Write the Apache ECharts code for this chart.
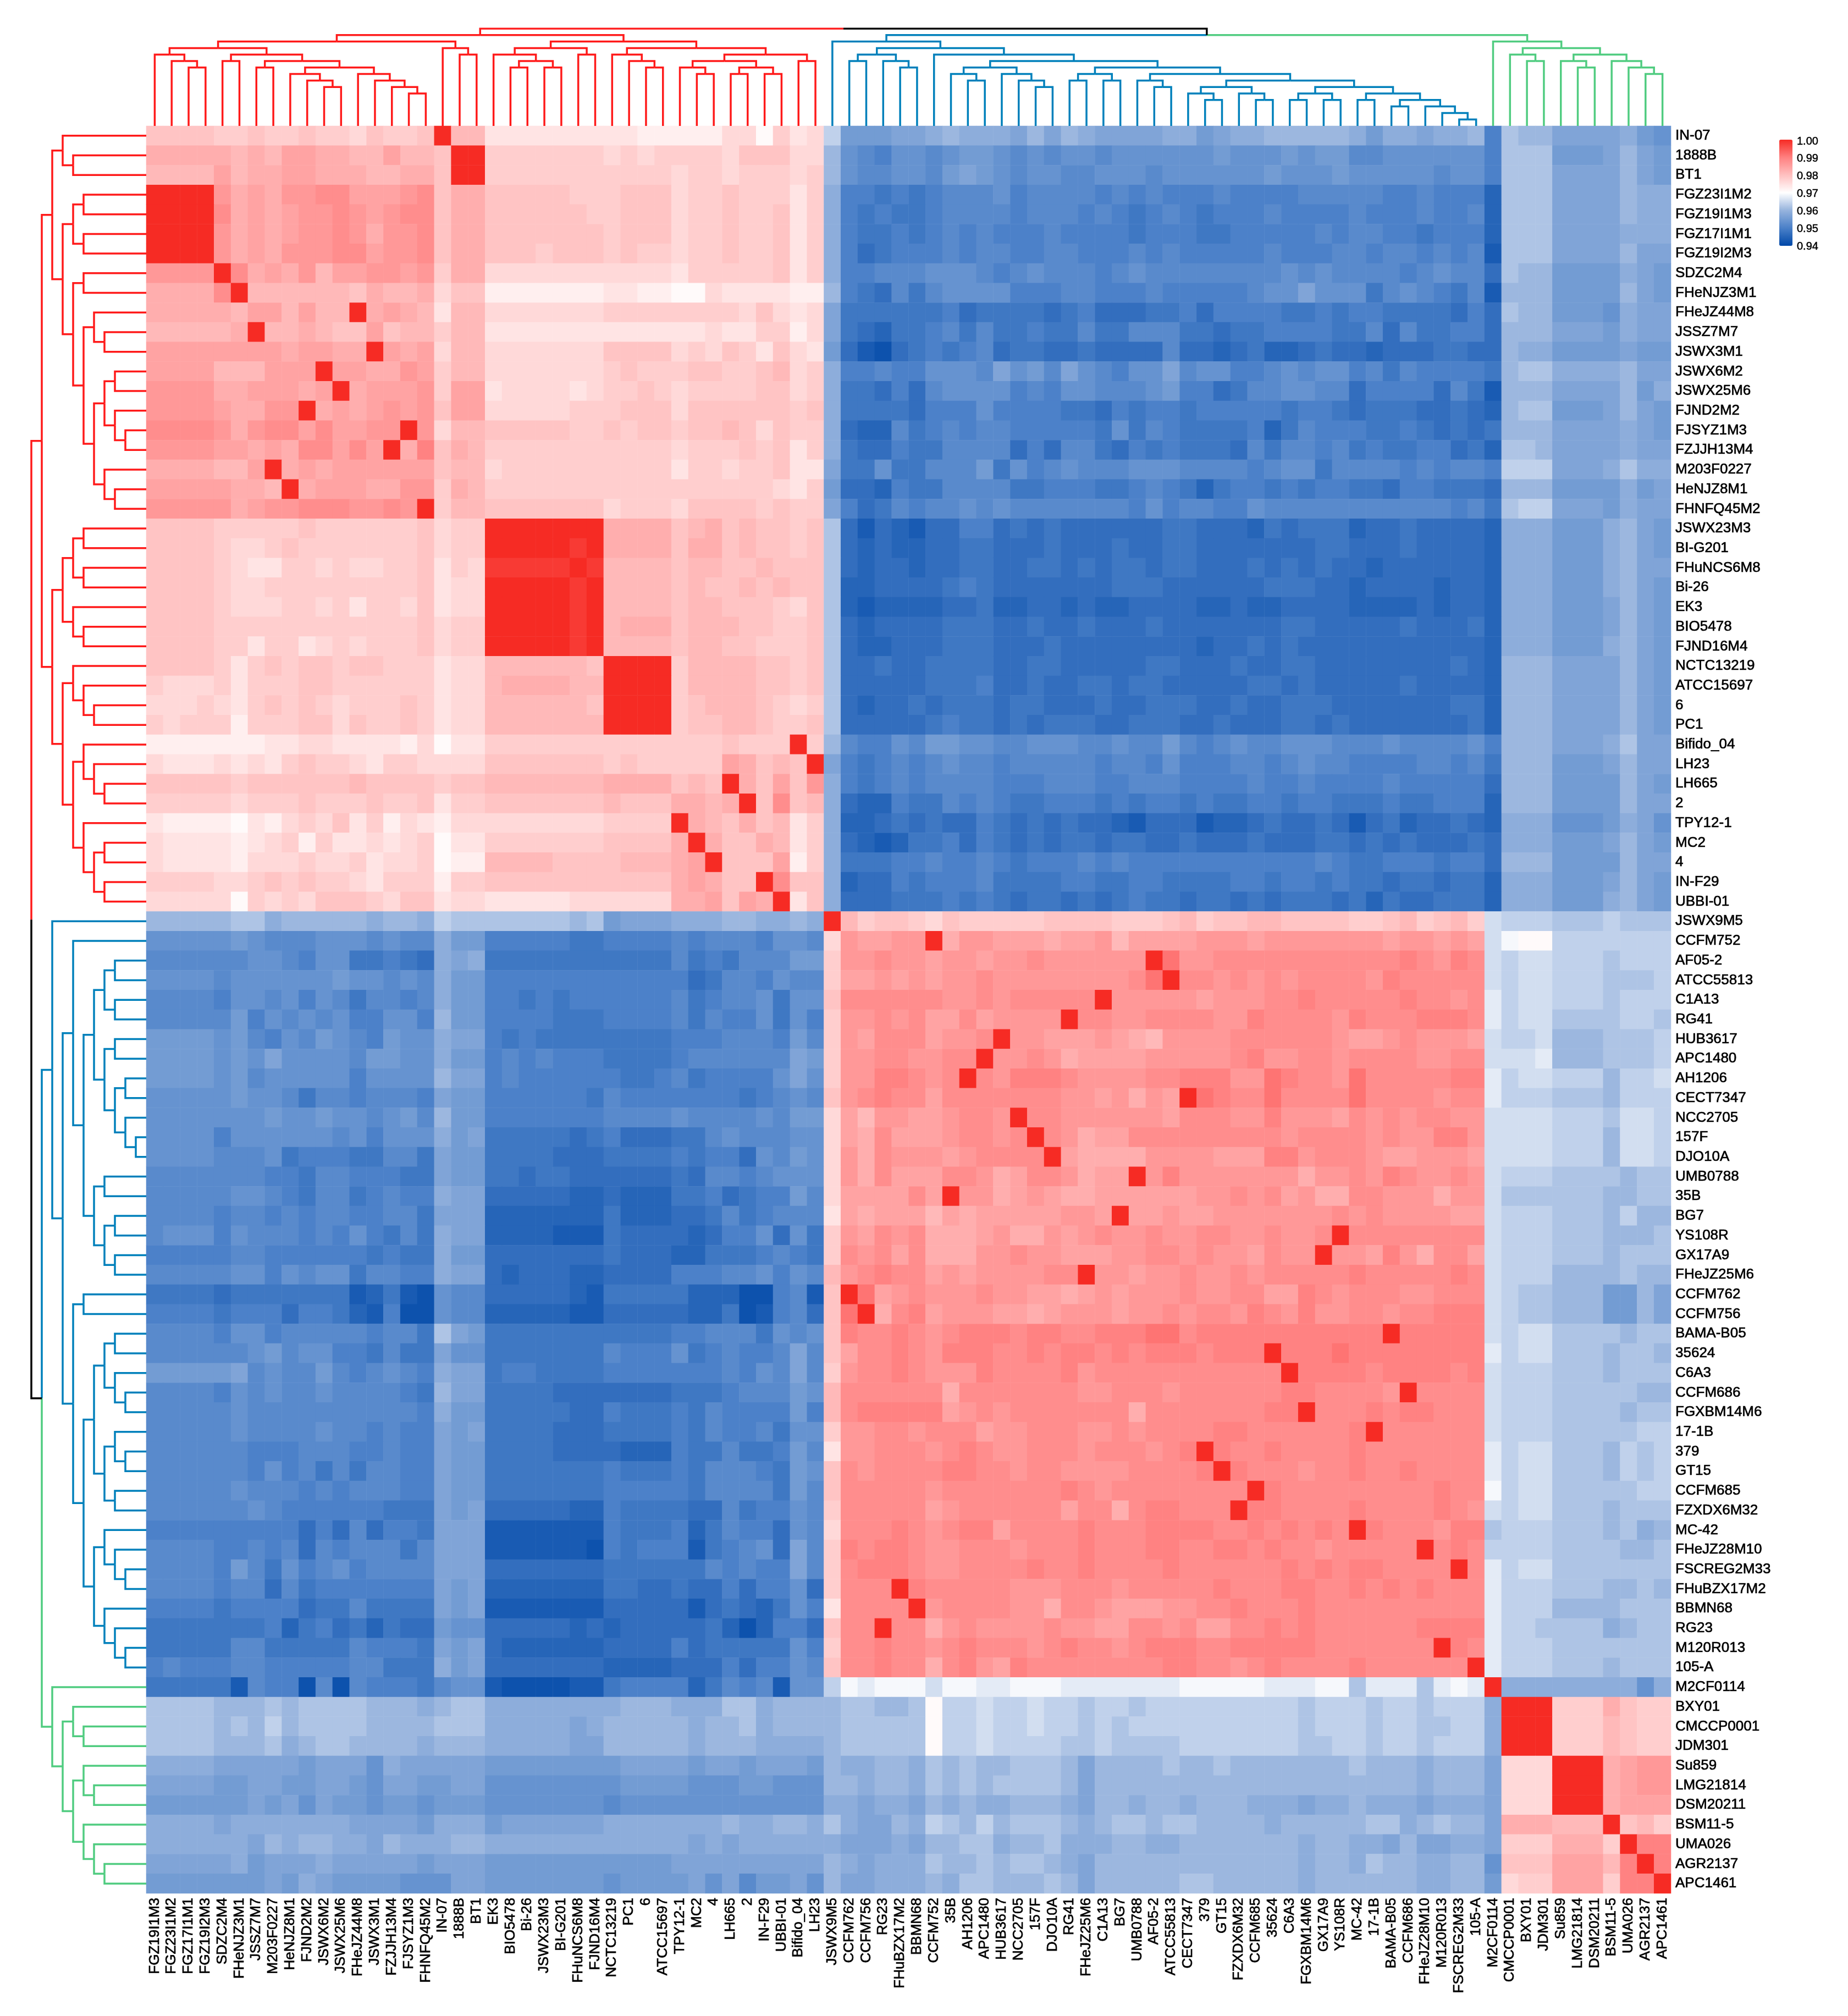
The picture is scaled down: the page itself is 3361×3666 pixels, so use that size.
<!DOCTYPE html>
<html>
<head>
<meta charset="utf-8">
<title>clustered heatmap</title>
<style>
html,body{margin:0;padding:0;background:#fff}
#main{width:3361px;height:3666px}
</style>
<script src="https://cdn.jsdelivr.net/npm/echarts@6/dist/echarts.min.js"></script>
</head>
<body>
<div id="main"></div>
<script>
var rowLabels = ["IN-07","1888B","BT1","FGZ23I1M2","FGZ19I1M3","FGZ17I1M1","FGZ19I2M3","SDZC2M4","FHeNJZ3M1","FHeJZ44M8","JSSZ7M7","JSWX3M1","JSWX6M2","JSWX25M6","FJND2M2","FJSYZ1M3","FZJJH13M4","M203F0227","HeNJZ8M1","FHNFQ45M2","JSWX23M3","BI-G201","FHuNCS6M8","Bi-26","EK3","BIO5478","FJND16M4","NCTC13219","ATCC15697","6","PC1","Bifido_04","LH23","LH665","2","TPY12-1","MC2","4","IN-F29","UBBI-01","JSWX9M5","CCFM752","AF05-2","ATCC55813","C1A13","RG41","HUB3617","APC1480","AH1206","CECT7347","NCC2705","157F","DJO10A","UMB0788","35B","BG7","YS108R","GX17A9","FHeJZ25M6","CCFM762","CCFM756","BAMA-B05","35624","C6A3","CCFM686","FGXBM14M6","17-1B","379","GT15","CCFM685","FZXDX6M32","MC-42","FHeJZ28M10","FSCREG2M33","FHuBZX17M2","BBMN68","RG23","M120R013","105-A","M2CF0114","BXY01","CMCCP0001","JDM301","Su859","LMG21814","DSM20211","BSM11-5","UMA026","AGR2137","APC1461"];
var colLabels = ["FGZ19I1M3","FGZ23I1M2","FGZ17I1M1","FGZ19I2M3","SDZC2M4","FHeNJZ3M1","JSSZ7M7","M203F0227","HeNJZ8M1","FJND2M2","JSWX6M2","JSWX25M6","FHeJZ44M8","JSWX3M1","FZJJH13M4","FJSYZ1M3","FHNFQ45M2","IN-07","1888B","BT1","EK3","BIO5478","Bi-26","JSWX23M3","BI-G201","FHuNCS6M8","FJND16M4","NCTC13219","PC1","6","ATCC15697","TPY12-1","MC2","4","LH665","2","IN-F29","UBBI-01","Bifido_04","LH23","JSWX9M5","CCFM762","CCFM756","RG23","FHuBZX17M2","BBMN68","CCFM752","35B","AH1206","APC1480","HUB3617","NCC2705","157F","DJO10A","RG41","FHeJZ25M6","C1A13","BG7","UMB0788","AF05-2","ATCC55813","CECT7347","379","GT15","FZXDX6M32","CCFM685","35624","C6A3","FGXBM14M6","GX17A9","YS108R","MC-42","17-1B","BAMA-B05","CCFM686","FHeJZ28M10","M120R013","FSCREG2M33","105-A","M2CF0114","CMCCP0001","BXY01","JDM301","Su859","LMG21814","DSM20211","BSM11-5","UMA026","AGR2137","APC1461"];

// one string per row, one character per cell: 0-9a-z, 0.94 to 1.00
var levelRows = [
"nnnn mmnmmnmmlnmmn z oo kkkkkkk kkjj jjjllimkl e 999aabcbbb acacbaaaab b9abbccccc b9bbabbc 6 dcc aaa ab98",
"pppp popoqqppooqoo n zz mmmmmmm lmlm mmmlnnnll c 8768878998 7878878888 8898889899 77888888 6 ddd 999 aca9",
"oooo qoppqqpppoopp n zz mmmmmmm mmmm lmmlmmmlm c 8778879a98 7887788878 8888898889 88888788 6 ddd aaa aca9",
"zzzz rpqprrssqqqrs n pp nnnnnmm mnnn lmmnmmmkm b 6656567778 6777767676 6676666777 77667666 3 ddd aaa acbb",
"zzzz spqpqrrsrqrss n pp nnnnnnm mnnn lmmnmmnkm b 6565567777 6777676567 6566676666 76667667 3 ddd aaa acbb",
"zzzz rpqpqrrsrprrs n pp nnnnnnn mnnn lmmnmmnkm b 6556567676 6676666566 6556666676 77665666 3 ddd aaa abbb",
"zzzz rpqprrrssqrrs n pp nnnmnnn mnmm lmmnmmnkm b 6456667677 6677666767 6666676667 76776767 2 ddd aaa acaa",
"rrrr zspqproqqrrqr m pp lllllll llll kmmmmmnkm b 6677788876 7877767877 7777778787 77767877 4 dcc 999 9ba9",
"pppp szoooooonpoop l nn jjjjjjj kkjj iilkkkkjj c 6547578888 6667766676 6666788a88 85787657 2 ccc 999 9ca9",
"pppp poqqoqoozpqpo k oo lllllll mmmm mmmmlnlkl a 5555556455 5545644455 6466665565 66555546 4 dcc 999 8baa",
"oooo opzooponnqnoo m oo kkkkkkk kkkk kklkkmmjl a 5435567575 5655755777 5545566665 57475566 4 ccc aaa 9baa",
"qqqq qqqqpqqppzqpq l oo lllllll nnnn lmlnmknlk 9 4214565674 5544544447 4434533454 43444554 4 cbb 999 9a99",
"qqqq oooqqqzqqpprq m oo lllllll mnmm mnnmmnolm b 667668887a 897a87688a 7886678788 67576666 5 cdd bbb bcaa",
"rrrr ppqqqpqzpqqqr m qq kllllkl mmnm lmmmmnnlm b 5546478888 6768877789 6645778877 46666475 2 ccc aaa ac9b",
"rrrr qpprrzpqpqrqr n qq lllllmm mnnn lnnnnnnmn b 5555466686 6665546566 5666665665 45554454 3 cdd 999 aca9",
"ssss rprssqsqqrrzr l oo nnnnnmm nmnn mnnonlnmm b 4337567677 6666658576 5555635766 65565454 5 ccc aaa aba9",
"rrrr qqpqpssqsqzpt n po mmmmmmm mmmm lmmmnmnkm b 5446557777 4647754656 5554757767 56556645 3 ddc aaa abaa",
"pppp ooqzpqpqqqqqq n oo lmmmmmm mmmm kmmlmmnkk a 5585577795 8678777888 7777678857 77767677 6 eee aaa bdbb",
"qqqq qppozpqqqpprr m po mmmmmmm mmmm mmmmmmlkm 9 4436557777 5566655676 5356656566 55466555 4 ccc 999 9b9a",
"rrrr rpqrrsssrrsrz m oo nnnnnnn lmmm lnnnnmnmm a 6457677878 7777777686 7766877777 77777767 5 dee aaa 9baa",
"nnnn mmmmmnmmmmmmn l mm zzzzzzz pppp nopnonnmn d 4243244664 5454444445 5444354555 34454444 3 bbb 999 bca9",
"nnnn mllmnmmmmmmmn l mm zzzzzyz pppp nppnonnmn d 4343344554 4454445445 5444444455 44454444 3 bbb 999 bca9",
"nnnn mlkkmmlmllmmn k ml yyyyyzy oooo noonnonnn d 4344344554 4554545545 5444545454 43444444 3 bbb 999 bcaa",
"nnnn mllmmmmmmmmmn k ll zzzzzyz oooo nonnononn d 3344445654 4444445554 4444455544 34444344 3 bbb 999 bca9",
"nnnn mlllmmlmkmmln k ll zzzzzyz oooo noonnnmln d 3233334453 3443433444 4334334444 33334344 3 bbb 999 aca9",
"nnnn mmmmmmmmmmmmn l mm zzzzzyz oppp nooonnmmn d 4344445554 4544544454 4444445544 44454445 3 bbb 999 aca9",
"nnnn mmkmmklmlmmmn l mm zzzzzyz oooo noonnmmmn d 4334445554 4454444444 4344545444 44444444 3 bbb 999 bca9",
"nnnn mkmnmnnmnnmmm k ll oooooon zzzz moooonnmn d 4454455554 4554444455 4445445544 44444454 3 ccc aaa aca9",
"mlll mkmmmnnmmmmmm k ll oppppoo zzzz moooonnmn d 4444455564 4544554554 4444554544 44454444 3 ccc aaa aca9",
"lllm lkmnmnmlmmmnm k ll oooooon zzzz mnooonmlm d 4344545554 5544454455 5445445554 44444455 3 ccc aaa aca9",
"mlmm mjmmmnnlnmmnm k ll ooooooo zzzz mnnoonmmn d 4444456554 5455544555 4454445545 44444445 3 ccc aaa aca9",
"jjjj jjjkkllkkkkjl i kk mmmmmmm mmmm mmmnmmmzm c 7668799887 7888778779 7678778887 77877778 6 ccc aaa bdaa",
"lkkk lklkmnmmlkmml l ll nnnnnnn mnmm mmmqpnonz a 6567678776 7777767768 6667767877 66667767 5 ccc 999 acaa",
"nnnn nmnnnnnnonnnn m nn ooooooo pppp nonzpnqnr b 6567677776 6677766777 6666766766 66766666 4 ccc 999 9ca9",
"mmmm mlmmmnmmmnmmn k mm nnnnnnn onnn ppopznsno b 4336557676 5566656566 5655665665 55655666 3 ccc 999 9caa",
"kjjj jikjlmlnkmjlk j ll lllllll mmmm zponpnokm b 3345454465 4545443244 4233454454 24534454 3 bbb 888 9ba8",
"lkkk kjklmjmkklklm i kk mmmmmmm nnnn pzpnnpokm b 4323556465 4545545544 5444544455 45454445 4 bbb 999 aca9",
"lkkk kjlllmllmkllm i jj oooonnn nooo pqznnnqjm b 5556676676 5666767666 6666666676 55666566 4 ccc 999 9caa",
"mmmm llmnmnmmlkmmm j mm nnnnnnn nnnn pqpnnzsnn b 3446566675 5556655665 5556656656 55455455 3 bbb 999 aca9",
"llll limlmlnnnmlnn k ll kkkkkll llll ppqnqpzkn b 4445556565 4554545655 4554545554 53544555 3 bbb 999 bca9",
"cccc cddbcccccbccb e dd dddddcd 9aaa bbbccbbcb z omnnmlnmmm mmnnnnmmmn omnnoonnnn mmnomnom f eee ddd eddd",
"8888 8987778887877 b 99 6666655 6666 767776887 l rqqrrzprrq qqpqqroqqq qrrrqrrrrr rrqrrqrq f hii eee eeee",
"7777 7788768855654 b ab 5555555 5555 756577799 m rrsrrqrrqr rsrrrrrrzu rrssssssss ssstsrts f eff eee deee",
"8888 7888888988787 b 99 6666666 6666 645776877 m qqrqrqrrsr rrrrrrrsuz ssrsrsrsss srtsssss f eff eee ddde",
"7777 6887868757767 b 99 6656566 6666 756778588 n ssssssrrsr ssssszrrrr rqrrrsstss ssstssrs g eff eee deee",
"7777 7968787866886 c 99 6666555 6666 757668586 m rrsrsqqsqr rrrzssrrss ssrrtssssr tsssttts g eff ddd deed",
"9999 8976879876988 b aa 6565555 5555 666777697 m rqsssqrrsz rrqqqrqpor rrrssssssr qqrsrrrq f eef ccc ddde",
"9999 898a888879988 b 99 6767666 5555 6777777a9 m rrssrrsszr rsrpqqqqrr rrrstrrssr ssssrrss f ffg ccc ddde",
"9999 8978888868888 c aa 6766666 6556 7566668a8 m rrttsrszsr tttsrrrrss tttrrutssr ussssstt g eff eee ceef",
"8888 8988757767776 a 99 6666665 7666 666656787 n rstssqssss sssrrqrprq zutssussss ussssrss g eee ddd ceee",
"8888 8889889887897 c 99 6666666 7777 877778799 l qorrqqrssr zssrrrrrrq sssrrtrrrq srsrssrr f fff eee dffe",
"8888 6888888786888 b 9a 5555545 6444 557877788 l qpsqqqrssr szsrpqqsss ssssssrsss srsrrttr f fff eee cffe",
"8888 7778566655775 a 99 5555444 5555 656648798 l rpsrrrqrss sszqpppprr rrqqqttrss srqqrrrq f fff eee cffe",
"7777 7776657766655 a 99 5545544 4444 547767888 l rpsqqqssrp qssrpqqzrt rrrrrrrprr srtsrrsr f eee ddd dcdd",
"7777 7887657756766 b aa 4444433 4333 556456697 l qqqqsqzrrp qrqppqqqqq qrrsrsqrpp ssrrrprr f ddd ddd ccdd",
"7777 6776767766775 a aa 3333333 5333 445756777 k qpqqqoqpqq qqqrrqzqqr qqrrrrrrrs rsrrrrqq f eee ddd cecc",
"7888 6877767686575 b aa 3333222 5444 434668485 m rqsrspppqr pprqrsrrsr rssrrsrrsz ssssssss f eee ddd cccd",
"6666 6776666665655 b 99 4444444 5444 335556765 m srsqsppprr srrqqqrrss rsrrqsrrzr rqtrpssq f eee ddd cddd",
"7777 7886878857766 b aa 4344433 4444 666778687 o rstssqrqrr rrsszrrqrr srrsrsssss tsssssts f eee ccc cdcc",
"5555 4555555523521 8 77 4444432 5555 533311672 n zuqrsrrrsr rqqpqrqrrr srrssqqtsr sssrrsss f edd ccc 99ca",
"6666 5666466532611 8 77 3333322 4444 433512674 n uzpstqrrrq qpqrrrqrrs rssrtsrtrr ssrssttt f edd ccc 99ca",
"7777 6886777776775 d a9 5555555 5555 667775878 n tsstsrsttt sttsstttuu sttttttttt ttzttttt f eff ddd dcdd",
"7777 7789788665755 a 88 5555555 7666 8567667a7 n qsstsrttts ststtststt tstttztttu tttttttt g eff ddd cddc",
"9999 9a78779767876 b aa 5665555 6666 6667687a7 m rsstsrrrts ssstrsssss sssssszttt tsttttst f eee ddd cddd",
"7777 6878778777765 c aa 5555444 4444 555677798 o sssssspsss ssssrrsssr ssssssttss ssrzssss f eee ddd ddcc",
"7777 7877777777776 b 99 5555544 6555 657666696 o stttttqrsr ssssssspss sssssttzss ststtsss f eee ddd dcdd",
"7777 7877778776766 a 9a 5555444 5555 657667588 m rrssrsssqr rsssrrsrss ssttssssss tzssssss f eee ddd ddee",
"7777 7766677766766 a 99 5555444 4333 655755697 k rrsssrstsr rsssrsssrs tztsstssss tsssssss g eff ddd cede",
"7777 7768675757766 a 99 5555555 6555 657776598 n srssssttss rssrrrrsss stztsssrss tsstssss g eff ddd cede",
"7777 7877767677766 a 99 5555555 6666 657777597 n sssssrssss ssstsrssss ssssztssss ssssstss h eff ddd ddee",
"7777 7787666666555 a 9a 4444433 6555 544756687 m sssssqrsss sssqsspstt ssszttssss tsssstsr f eff ddd cddd",
"6666 6666646474665 a aa 2222222 6555 635766487 l ssstsrsttq sssstssstt ttsstststs ztsssrtt d eee ddd cdbc",
"7777 6676747677757 a aa 2222221 6566 6256784a7 m tsttsrrsss rssstssstt ssttstssrs sssszsts e eee ddd dccd",
"7777 6975867867777 a aa 4444444 5555 5576766a7 m stttsrrsss stsstsssst sssssststs ttsssszs g eff ddd dddd",
"7777 6774756666666 a 9a 3333333 5544 544646684 m ssszts ssss rrrsssrsss sstsssttss tststsss g eee ddd ccdc",
"6666 5666645575555 a 9a 2222222 4444 424543586 k sssszrssss rrpssrqqqr rsstssstss ssssssss g eee ccc cddd",
"5555 5556356453544 9 88 4444434 3444 445313664 n sszssprsrr rrsrrqqssr sqqsststss sssstttt g eed ddd bcdd",
"5555 5775555576665 a 9a 4333333 4444 645555586 m sstssrstss srstssrstt tsstttttss ssssszts g eee ddd dddd",
"6766 6776666677555 b 9a 4444444 3333 444646687 n sstsspstrq tsssssssst tssrstssss tssssssz g eee ddd cddd",
"5555 5276617176665 7 88 2111122 5666 635767288 e hghhhfhhgg hhhggggggg hhhhhggghh dgggdghg z bbb bbb bb8b",
"dddd cccdcddddcccb c dd bbbbbbb bccc bbbddbccc c ddccdieefe efeedeedee eeeeeeedee edeedeee b zzz mmm pnmm",
"dddd cdcecddddcccc d dd bbbbbab cccc cbccdbccc c dddddieefe efeededeee eeeeeeedee edeeddee b zzz mmm onmm",
"dddd cccdbcddccccb c cc bbbbbaa cccc cbcccbbbb c dddddieefe eeeddedddd eeeeeeedde edeedeee b zzz mmm onmm",
"bbbb aaaaa9aaa8baa a aa 9999999 9aaa a9aa9aaa9 c bbccbdcdcc dddcaccccd ccdccccccc dcccbccc a lll zzz pqrr",
"aaaa 99aa99aa98aa9 9 aa 8888888 8999 988899888 c cbccbdcdcd dddcaccccc cccccccccc ccccbccc a lll zzz pqrr",
"9999 99a9a8a998998 9 99 8888888 7888 888888888 b babbacbcbb cccbaccbcc bcccbbbabb cbbbabbb a lll zzz pqqq",
"bbbb abbbbbbbaaaa9 b bb 9aaaaaa bbbb bbbcbbccb d baacbedcec dddcbcddcd dccccbcccc cddbcdcc a ppp ooo znom",
"bbbb bbacbccbbacbb b cc bbbbbbb bbbb bababbbbb b aaabaccddb ccdbbbccbb cccccccbcc bbacaabb a mmm ppp mztt",
"aaaa ab9aaabaaaaa9 a aa 9999999 9999 aaaaaaaaa c babbbdccdc ddcbaccccc cccccccbcc bdccbbcc 8 nnn qqq otzt",
"9999 999a9ba999988 8 aa 9999999 8999 9a8a799a8 c aabbbcbddc ccdcaccccc ddcccccbcc ccccbbcc 9 lmm qqq mttz"
];

var legendLabels = ["0.94","0.95","0.96","0.97","0.98","0.99","1.00"];
var legendMin = 0.94;
var legendMax = 1.0;

// dendrogram shapes: nested pairs of leaf positions along the heatmap edge
var colA = [[0,[1,[2,3]]],[[4,5],[[6,7],[[8,[9,[10,11]]],[12,[13,[14,[15,16]]]]]]]];
var colB = [17,[18,19]];
var colC = [[20,[[21,22],[23,24]]],[25,26]];
var colD = [[27,[28,[29,30]]],[[[31,[32,33]],[[34,35],[36,37]]],[38,39]]];
var colRedTree = [[colA,colB],[colC,colD]];
var colP = [[41,42],[43,[44,45]]];
var colQ = [[47,[48,49]],[50,[51,[52,53]]]];
var colS = [[61,[62,63]],[64,[65,66]]];
var colT = [[[67,68],[69,70]],[[71,72],[[73,74],[75,[76,[77,78]]]]]];
var colR = [[[54,55],[56,57]],[[58,[59,60]],[colS,colT]]];
var colBlueTree = [40,[colP,[46,[colQ,colR]]]];
var colGreenTree = [79,[[80,[81,82]],[[83,[84,85]],[86,[87,[88,89]]]]]];

var rowA = [[0,[1,2]],[[[3,4],[5,6]],[[7,8],[[9,[10,11]],[[[12,13],[14,[15,16]]],[17,[18,19]]]]]]];
var rowB = [[[[20,21],[22,23]],[24,[25,26]]],[[27,[28,[29,30]]],[[31,[32,[33,34]]],[35,[[36,37],[38,39]]]]]];
var rowRedTree = [rowA,rowB];
var rowP = [[[42,43],[44,45]],[[46,47],[[48,49],[50,[51,52]]]]];
var rowQ = [[53,54],[[55,56],[57,58]]];
var rowU = [[[61,62],[63,[64,65]]],[[66,[67,68]],[69,70]]];
var rowV = [[71,[72,[73,74]]],[75,[76,[77,78]]]];
var rowBlueTree = [40,[[41,[rowP,rowQ]],[[59,60],[rowU,rowV]]]];
var rowGreenTree = [79,[[80,[81,82]],[[83,[84,85]],[86,[87,[88,89]]]]]];

var RED = '#ff1a1a', BLUE = '#0080bb', GREEN = '#50cc80', BLACK = '#000000';
var LEVELS = '0123456789abcdefghijklmnopqrstuvwxyz';

var heatData = [];
var badRows = [];
levelRows.forEach(function (row, y) {
	var cells = row.replace(/ /g, '');
	if (cells.length !== colLabels.length) badRows.push(y + ':' + cells.length);
	for (var x = 0; x < colLabels.length; x++) {
		var idx = LEVELS.indexOf(cells.charAt(x));
		if (idx < 0) continue;
		heatData.push([x, y, legendMin + (legendMax - legendMin) * idx / 35]);
	}
});

// walk one coloured subtree, every merge sits one step deeper than its parent
function walk(node, depth, color, leafDepth, links) {
	if (typeof node === 'number') return {pos: node + 0.5, depth: leafDepth, color: color};
	var a = walk(node[0], depth + 1, color, leafDepth, links);
	var b = walk(node[1], depth + 1, color, leafDepth, links);
	return join(a, b, depth, color, links);
}
function join(a, b, depth, color, links) {
	var mid = (a.pos + b.pos) / 2;
	links.push({pts: [[a.pos, a.depth], [a.pos, depth], [mid, depth]], color: a.color});
	links.push({pts: [[b.pos, b.depth], [b.pos, depth], [mid, depth]], color: b.color});
	return {pos: mid, depth: depth, color: color};
}
function buildLinks(redTree, blueTree, greenTree, leafDepth) {
	var links = [];
	var red = walk(redTree, 1, RED, leafDepth, links);
	var blue = walk(blueTree, 2, BLUE, leafDepth, links);
	var green = walk(greenTree, 2, GREEN, leafDepth, links);
	var rest = join(blue, green, 1, BLACK, links);
	join(red, rest, 0, BLACK, links);
	return links;
}
function topData(links) {
	return links.map(function (l) { return {coords: l.pts, lineStyle: {color: l.color}}; });
}
function leftData(links) {
	return links.map(function (l) {
		return {coords: l.pts.map(function (p) { return [p[1], p[0]]; }), lineStyle: {color: l.color}};
	});
}

var TOP_DEPTH = 15, LEFT_DEPTH = 11;
// the labels in the picture are heavy but keep regular widths, so a thin outline instead of bold
var labelFont = {fontFamily: 'Liberation Sans', fontSize: 26, color: '#000', textBorderColor: '#000', textBorderWidth: 0.7};

var myChart = echarts.init(document.getElementById('main'), null, {renderer: 'canvas'});
var option = {
	backgroundColor: '#fff',
	animation: false,
	grid: [
		{left: 266, top: 229, width: 2773, height: 3214},
		{left: 266, top: 52, width: 2773, height: 177},
		{left: 57, top: 229, width: 209, height: 3214},
		{left: 3236, top: 257, width: 24, height: 191}
	],
	xAxis: [
		{gridIndex: 0, type: 'category', data: colLabels, position: 'bottom',
			axisLine: {show: false}, axisTick: {show: false}, splitLine: {show: false},
			axisLabel: Object.assign({interval: 0, rotate: 90, margin: 8}, labelFont)},
		{gridIndex: 1, type: 'value', min: 0, max: colLabels.length, show: false},
		{gridIndex: 2, type: 'value', min: 0, max: LEFT_DEPTH, show: false},
		{gridIndex: 3, type: 'value', min: 0, max: 1, show: false}
	],
	yAxis: [
		{gridIndex: 0, type: 'category', data: rowLabels, inverse: true, position: 'right',
			axisLine: {show: false}, axisTick: {show: false}, splitLine: {show: false},
			axisLabel: Object.assign({interval: 0, margin: 8, padding: [4, 0, 0, 0]}, labelFont)},
		{gridIndex: 1, type: 'value', min: 0, max: TOP_DEPTH, inverse: true, show: false},
		{gridIndex: 2, type: 'value', min: 0, max: rowLabels.length, inverse: true, show: false},
		{gridIndex: 3, type: 'value', min: 0, max: legendLabels.length - 1, interval: 1, position: 'right',
			axisLine: {show: false}, axisTick: {show: false}, splitLine: {show: false},
			axisLabel: {margin: 8, fontFamily: 'Liberation Sans', fontSize: 20, color: '#000',
				textBorderColor: '#000', textBorderWidth: 0.5,
				formatter: function (v) { return legendLabels[v]; }}}
	],
	visualMap: {
		type: 'continuous', seriesIndex: 0, min: legendMin, max: legendMax,
		left: 3236, top: 254, itemWidth: 24, itemHeight: 193, padding: 0,
		text: ['', ''], calculable: false, hoverLink: false,
		inRange: {color: ['#0048a8', '#4a80c8', '#96b3dd', '#ffffff', '#ffc0c0', '#ff8080', '#f62b24']}
	},
	series: [
		{type: 'heatmap', xAxisIndex: 0, yAxisIndex: 0, data: heatData, progressive: 0,
			itemStyle: {borderWidth: 0}, emphasis: {disabled: true}},
		{type: 'lines', coordinateSystem: 'cartesian2d', xAxisIndex: 1, yAxisIndex: 1, polyline: true,
			silent: true, lineStyle: {width: 3.5, opacity: 1},
			data: topData(buildLinks(colRedTree, colBlueTree, colGreenTree, TOP_DEPTH))},
		{type: 'lines', coordinateSystem: 'cartesian2d', xAxisIndex: 2, yAxisIndex: 2, polyline: true,
			silent: true, lineStyle: {width: 3.5, opacity: 1},
			data: leftData(buildLinks(rowRedTree, rowBlueTree, rowGreenTree, LEFT_DEPTH))}
	]
};
myChart.setOption(option);
if (badRows.length) throw new Error('bad rows ' + badRows.join(' '));
</script>
</body>
</html>
